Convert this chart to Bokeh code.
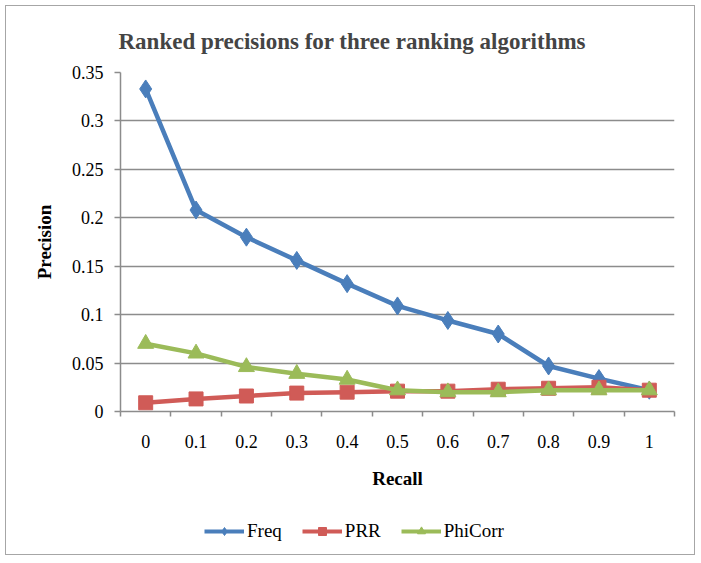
from bokeh.plotting import figure
from bokeh.layouts import column
from bokeh.models import FixedTicker, CustomJSTickFormatter, Legend, LegendItem, Range1d
from bokeh.embed import file_html
from bokeh.resources import INLINE

recall = ["0", "0.1", "0.2", "0.3", "0.4", "0.5", "0.6", "0.7", "0.8", "0.9", "1"]
freq = [0.333, 0.208, 0.180, 0.156, 0.132, 0.109, 0.094, 0.080, 0.047, 0.034, 0.022]
prr = [0.009, 0.013, 0.016, 0.019, 0.020, 0.021, 0.021, 0.023, 0.024, 0.025, 0.022]
phicorr = [0.070, 0.060, 0.046, 0.039, 0.033, 0.022, 0.020, 0.020, 0.022, 0.022, 0.022]
y_ticks = [0, 0.05, 0.1, 0.15, 0.2, 0.25, 0.3, 0.35]
series_names = ["Freq", "PRR", "PhiCorr"]

FONT = "Liberation Serif"
GRID = "#8c8c8c"
BLUE = "#4a7ebb"
RED = "#d05b57"
GREEN = "#9bbb59"

xs = list(range(len(recall)))

p = figure(width=688, height=502, output_backend="svg", toolbar_location=None,
           x_range=Range1d(-0.5, len(recall) - 0.5), y_range=Range1d(0, 0.35),
           min_border_left=114, min_border_right=20, min_border_top=66, min_border_bottom=97)

p.title.text = "Ranked precisions for three ranking algorithms"
p.title.text_font = FONT
p.title.text_font_size = "23px"
p.title.text_font_style = "bold"
p.title.text_line_height = 1.0
p.title.align = "left"
p.title.offset = -2
p.title.standoff = 38

p.outline_line_color = None
p.xgrid.grid_line_color = None
p.ygrid.grid_line_color = GRID
p.ygrid.grid_line_width = 1.5

p.yaxis.ticker = FixedTicker(ticks=y_ticks)
p.yaxis.formatter = CustomJSTickFormatter(code="return String(Number(tick.toFixed(2)));")
p.yaxis.axis_line_color = GRID
p.yaxis.axis_line_width = 1.5
p.yaxis.major_tick_line_color = GRID
p.yaxis.major_tick_line_width = 1.5
p.yaxis.major_tick_out = 6
p.yaxis.major_tick_in = 0
p.yaxis.minor_tick_line_color = None
p.yaxis.major_label_text_font = FONT
p.yaxis.major_label_text_font_size = "18px"
p.yaxis.major_label_text_color = "#000000"
p.yaxis.major_label_standoff = 11
p.yaxis.axis_label = "Precision"
p.yaxis.axis_label_text_font = FONT
p.yaxis.axis_label_text_font_size = "19px"
p.yaxis.axis_label_text_font_style = "bold"
p.yaxis.axis_label_text_color = "#000000"
p.yaxis.axis_label_standoff = 14

p.xaxis.ticker = FixedTicker(ticks=xs, minor_ticks=[i - 0.5 for i in range(len(recall) + 1)])
p.xaxis.major_label_overrides = {i: r for i, r in enumerate(recall)}
p.xaxis.axis_line_color = GRID
p.xaxis.axis_line_width = 1.5
p.xaxis.major_tick_line_color = None
p.xaxis.minor_tick_line_color = GRID
p.xaxis.minor_tick_line_width = 1.5
p.xaxis.minor_tick_out = 5
p.xaxis.minor_tick_in = 0
p.xaxis.major_label_text_font = FONT
p.xaxis.major_label_text_font_size = "18px"
p.xaxis.major_label_text_color = "#000000"
p.xaxis.major_label_standoff = 17
p.xaxis.axis_label = "Recall"
p.xaxis.axis_label_text_font = FONT
p.xaxis.axis_label_text_font_size = "19px"
p.xaxis.axis_label_text_font_style = "bold"
p.xaxis.axis_label_text_color = "#000000"
p.xaxis.axis_label_standoff = 17

series = [(freq, BLUE, "diamond", 18), (prr, RED, "square", 14), (phicorr, GREEN, "triangle", 16)]
for vals, col, mk, sz in series:
    p.line(xs, vals, line_color=col, line_width=4.5)
    p.scatter(xs, vals, marker=mk, size=sz, fill_color=col, line_color=col)

# legend strip below the chart: same series drawn out of view, only the legend shows
lg = figure(width=688, height=46, output_backend="svg", toolbar_location=None,
            x_range=Range1d(100, 101), y_range=Range1d(100, 101),
            min_border_left=0, min_border_right=0, min_border_top=0, min_border_bottom=0)
lg.axis.visible = False
lg.grid.visible = False
lg.outline_line_color = None
items = []
for name, (vals, col, mk, sz) in zip(series_names, series):
    r1 = lg.line(xs, vals, line_color=col, line_width=4)
    r2 = lg.scatter(xs, vals, marker=mk, size=sz - 2, fill_color=col, line_color=col)
    items.append(LegendItem(label=name, renderers=[r1, r2]))
legend = Legend(items=items, orientation="horizontal", location=(84, 12),
                label_text_font=FONT, label_text_font_size="19px", label_text_color="#000000",
                glyph_width=40, spacing=20, border_line_color=None,
                background_fill_alpha=0, margin=0, padding=0, label_standoff=3)
lg.add_layout(legend, "center")

layout = column(p, lg, spacing=0)
layout.styles = {"border": "1px solid #a6a6a6", "margin-left": "5px", "margin-top": "5px"}

open("out.html", "w").write(file_html(layout, INLINE))
